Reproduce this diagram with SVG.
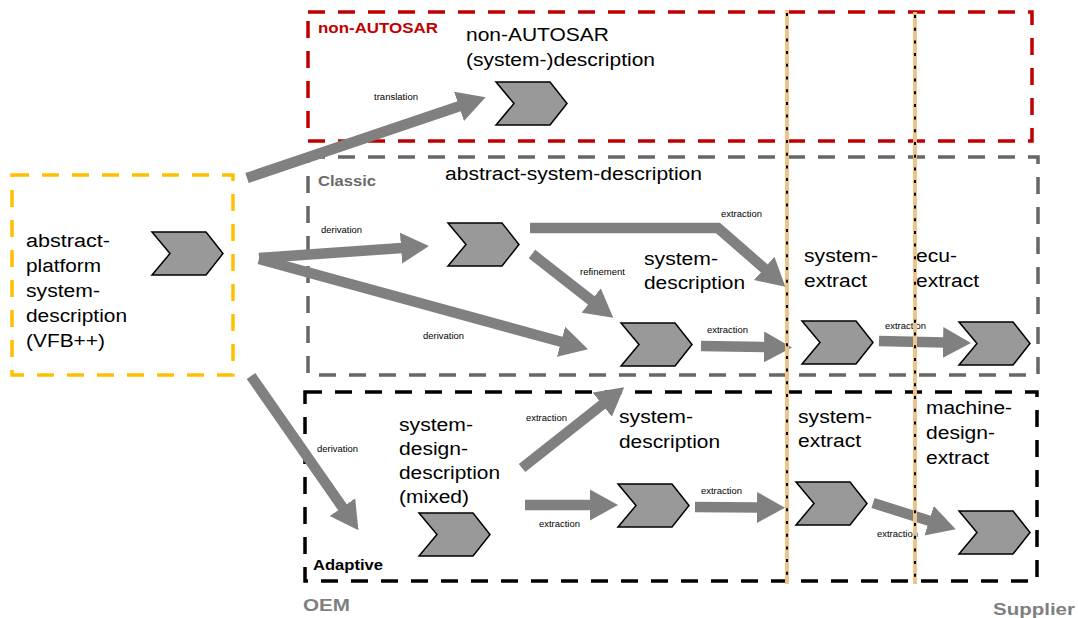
<svg xmlns="http://www.w3.org/2000/svg" width="1078" height="618" viewBox="0 0 1078 618">
<style>
text{font-family:"Liberation Sans",Arial,sans-serif;}
.big{font-size:18px;fill:#000;}
.small{font-size:8.5px;fill:#000;}
.grp{font-size:14px;font-weight:bold;}
.side{font-size:17px;font-weight:bold;fill:#7f7f7f;}
.box{fill:none;stroke-width:3.5;stroke-dasharray:17 13;}
.chev{fill:#999999;stroke:#000;stroke-width:1.5;stroke-linejoin:miter;}
.arr{fill:none;stroke:#808080;stroke-width:10.5;marker-end:url(#ah);}
.vtan{stroke:#ecc48c;stroke-width:4;}
.vdot{stroke:#000;stroke-width:2;stroke-dasharray:3 9.7;}
</style>
<defs>
<marker id="ah" markerUnits="userSpaceOnUse" markerWidth="30" markerHeight="32" viewBox="0 0 30 32" refX="1" refY="16" orient="auto">
<path d="M0,0.5 L28,16 L0,31.5 Z" fill="#808080"/>
</marker>
<path id="chev" class="chev" d="M0,0 L54,0 L71,21.5 L54,43 L0,43 L18,21.5 Z"/>
</defs>

<g id="container-nonautosar">
<rect class="box" x="308" y="12" width="724" height="129" stroke="#c00000"/>
<text class="grp" x="318" y="33" fill="#c00000" textLength="120" lengthAdjust="spacingAndGlyphs">non-AUTOSAR</text>
</g>
<g id="container-classic">
<rect class="box" x="308" y="157" width="730" height="218" stroke="#666666"/>
<text class="grp" x="318" y="186" fill="#6a6a6a" textLength="58" lengthAdjust="spacingAndGlyphs">Classic</text>
</g>
<g id="container-adaptive">
<rect class="box" x="305" y="392" width="732" height="189" stroke="#000000"/>
<text class="grp" x="313" y="570" fill="#000" textLength="70" lengthAdjust="spacingAndGlyphs">Adaptive</text>
</g>

<g id="node-abstract-platform">
<rect class="box" x="12" y="175" width="221" height="200" stroke="#ffc000"/>
<use href="#chev" x="152" y="232"/>
<text class="big" x="26" y="247" textLength="84" lengthAdjust="spacingAndGlyphs">abstract-</text>
<text class="big" x="26" y="272" textLength="75" lengthAdjust="spacingAndGlyphs">platform</text>
<text class="big" x="26" y="297" textLength="74" lengthAdjust="spacingAndGlyphs">system-</text>
<text class="big" x="26" y="322" textLength="101" lengthAdjust="spacingAndGlyphs">description</text>
<text class="big" x="26" y="347" textLength="79" lengthAdjust="spacingAndGlyphs">(VFB++)</text>
</g>

<g id="node-nonautosar-description">
<use href="#chev" x="496" y="82"/>
<text class="big" x="466" y="41" textLength="143" lengthAdjust="spacingAndGlyphs">non-AUTOSAR</text>
<text class="big" x="466" y="66" textLength="189" lengthAdjust="spacingAndGlyphs">(system-)description</text>
</g>

<g id="node-abstract-system-description">
<use href="#chev" x="448" y="223"/>
<text class="big" x="445" y="180" textLength="257" lengthAdjust="spacingAndGlyphs">abstract-system-description</text>
</g>

<g id="node-classic-system-description">
<use href="#chev" x="621" y="323"/>
<text class="big" x="644" y="265" textLength="74" lengthAdjust="spacingAndGlyphs">system-</text>
<text class="big" x="644" y="289" textLength="101" lengthAdjust="spacingAndGlyphs">description</text>
</g>

<g id="node-classic-system-extract">
<use href="#chev" x="802" y="321"/>
<text class="big" x="804" y="262" textLength="74" lengthAdjust="spacingAndGlyphs">system-</text>
<text class="big" x="804" y="287" textLength="63" lengthAdjust="spacingAndGlyphs">extract</text>
</g>

<g id="node-ecu-extract">
<use href="#chev" x="959" y="322"/>
<text class="big" x="916" y="262" textLength="41" lengthAdjust="spacingAndGlyphs">ecu-</text>
<text class="big" x="916" y="287" textLength="63" lengthAdjust="spacingAndGlyphs">extract</text>
</g>

<g id="node-system-design-description">
<use href="#chev" x="419" y="513"/>
<text class="big" x="399" y="431" textLength="74" lengthAdjust="spacingAndGlyphs">system-</text>
<text class="big" x="399" y="455" textLength="69" lengthAdjust="spacingAndGlyphs">design-</text>
<text class="big" x="399" y="479" textLength="101" lengthAdjust="spacingAndGlyphs">description</text>
<text class="big" x="399" y="503" textLength="70" lengthAdjust="spacingAndGlyphs">(mixed)</text>
</g>

<g id="node-adaptive-system-description">
<use href="#chev" x="618" y="484"/>
<text class="big" x="619" y="423" textLength="74" lengthAdjust="spacingAndGlyphs">system-</text>
<text class="big" x="619" y="448" textLength="101" lengthAdjust="spacingAndGlyphs">description</text>
</g>

<g id="node-adaptive-system-extract">
<use href="#chev" x="796" y="482"/>
<text class="big" x="798" y="423" textLength="74" lengthAdjust="spacingAndGlyphs">system-</text>
<text class="big" x="798" y="447" textLength="63" lengthAdjust="spacingAndGlyphs">extract</text>
</g>

<g id="node-machine-design-extract">
<use href="#chev" x="959" y="511"/>
<text class="big" x="926" y="414" textLength="86" lengthAdjust="spacingAndGlyphs">machine-</text>
<text class="big" x="926" y="439" textLength="69" lengthAdjust="spacingAndGlyphs">design-</text>
<text class="big" x="926" y="464" textLength="63" lengthAdjust="spacingAndGlyphs">extract</text>
</g>

<g id="connectors">
<polyline class="arr" points="247,178 460,106"/>
<polyline class="arr" points="259,258 402,248"/>
<polyline class="arr" points="259,259 562,342"/>
<polyline class="arr" points="530,228 718,228 765,269" stroke-linejoin="miter"/>
<polyline class="arr" points="532,254 592,301"/>
<polyline class="arr" points="701,346 765,347"/>
<polyline class="arr" points="879,341 944,342.5"/>
<polyline class="arr" points="251,376 343,508"/>
<polyline class="arr" points="522,468 603,404"/>
<polyline class="arr" points="525,505 591,505"/>
<polyline class="arr" points="695,507 758,507.5"/>
<polyline class="arr" points="873,503 930,521"/>
<text class="small" x="374" y="100" textLength="44" lengthAdjust="spacingAndGlyphs">translation</text>
<text class="small" x="321" y="233" textLength="41" lengthAdjust="spacingAndGlyphs">derivation</text>
<text class="small" x="423" y="339" textLength="41" lengthAdjust="spacingAndGlyphs">derivation</text>
<text class="small" x="580" y="275" textLength="45" lengthAdjust="spacingAndGlyphs">refinement</text>
<text class="small" x="721" y="217" textLength="41" lengthAdjust="spacingAndGlyphs">extraction</text>
<text class="small" x="707" y="333" textLength="41" lengthAdjust="spacingAndGlyphs">extraction</text>
<text class="small" x="885" y="329" textLength="41" lengthAdjust="spacingAndGlyphs">extraction</text>
<text class="small" x="317" y="452" textLength="41" lengthAdjust="spacingAndGlyphs">derivation</text>
<text class="small" x="526" y="421" textLength="41" lengthAdjust="spacingAndGlyphs">extraction</text>
<text class="small" x="539" y="527" textLength="41" lengthAdjust="spacingAndGlyphs">extraction</text>
<text class="small" x="701" y="494" textLength="41" lengthAdjust="spacingAndGlyphs">extraction</text>
<text class="small" x="877" y="537" textLength="41" lengthAdjust="spacingAndGlyphs">extraction</text>
</g>

<g id="boundaries">
<line class="vtan" x1="787" y1="10" x2="787" y2="584"/>
<line class="vdot" x1="787" y1="13" x2="787" y2="584"/>
<line class="vtan" x1="915" y1="12" x2="915" y2="584"/>
<line class="vdot" x1="915" y1="15" x2="915" y2="584"/>
</g>

<g id="labels-sides">
<text class="side" x="303" y="611" textLength="47" lengthAdjust="spacingAndGlyphs">OEM</text>
<text class="side" x="993" y="615" textLength="82" lengthAdjust="spacingAndGlyphs">Supplier</text>
</g>
</svg>
